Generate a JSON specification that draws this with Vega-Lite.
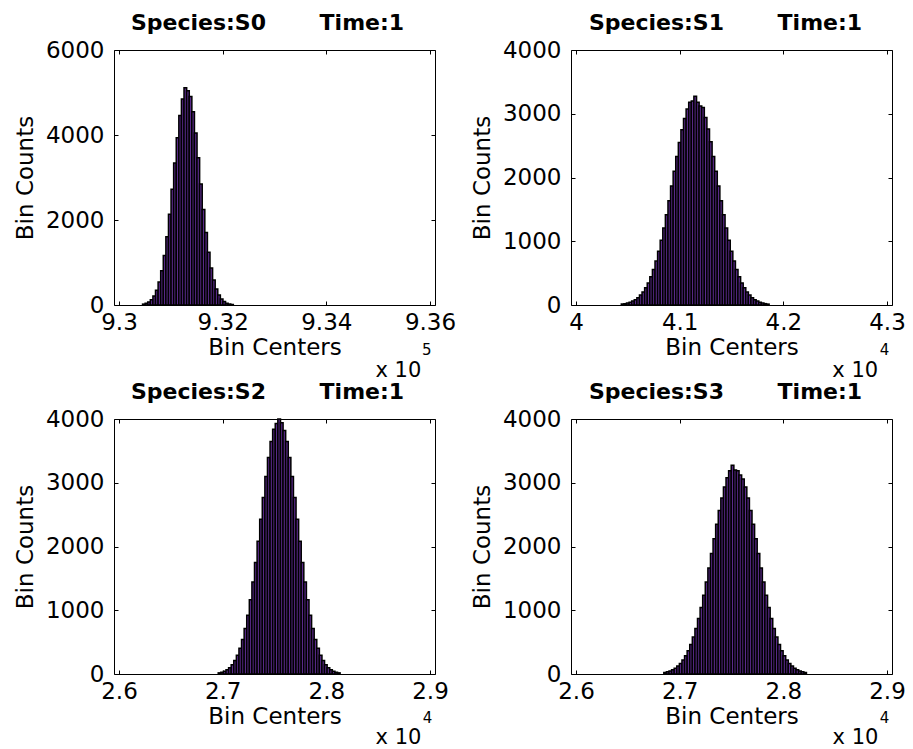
{
"$schema": "https://vega.github.io/schema/vega-lite/v6.json",
"background": "white",
"padding": {"left": 13, "top": 11, "right": 5, "bottom": 5},
"datasets": {
"s0": [{"c":9.3048,"n":21},{"c":9.3053,"n":39},{"c":9.3058,"n":72},{"c":9.3063,"n":126},{"c":9.3068,"n":213},{"c":9.3073,"n":346},{"c":9.3078,"n":539},{"c":9.3083,"n":807},{"c":9.3088,"n":1162},{"c":9.3093,"n":1607},{"c":9.3098,"n":2134},{"c":9.3103,"n":2724},{"c":9.3108,"n":3341},{"c":9.3113,"n":3936},{"c":9.3118,"n":4456},{"c":9.3123,"n":4846},{"c":9.3128,"n":5110},{"c":9.3133,"n":5040},{"c":9.3138,"n":4904},{"c":9.3143,"n":4545},{"c":9.3148,"n":4048},{"c":9.3153,"n":3463},{"c":9.3158,"n":2847},{"c":9.3163,"n":2249},{"c":9.3168,"n":1706},{"c":9.3173,"n":1244},{"c":9.3178,"n":871},{"c":9.3183,"n":586},{"c":9.3188,"n":379},{"c":9.3193,"n":236},{"c":9.3198,"n":141},{"c":9.3203,"n":81},{"c":9.3208,"n":44},{"c":9.3213,"n":23},{"c":9.3218,"n":12}],
"s1": [{"c":4.045,"n":14},{"c":4.0475,"n":21},{"c":4.05,"n":30},{"c":4.0525,"n":43},{"c":4.055,"n":61},{"c":4.0575,"n":84},{"c":4.06,"n":115},{"c":4.0625,"n":155},{"c":4.065,"n":205},{"c":4.0675,"n":269},{"c":4.07,"n":347},{"c":4.0725,"n":443},{"c":4.075,"n":556},{"c":4.0775,"n":689},{"c":4.08,"n":842},{"c":4.0825,"n":1015},{"c":4.085,"n":1207},{"c":4.0875,"n":1415},{"c":4.09,"n":1637},{"c":4.0925,"n":1867},{"c":4.095,"n":2100},{"c":4.0975,"n":2330},{"c":4.1,"n":2549},{"c":4.1025,"n":2750},{"c":4.105,"n":2927},{"c":4.1075,"n":3073},{"c":4.11,"n":3181},{"c":4.1125,"n":3200},{"c":4.115,"n":3275},{"c":4.1175,"n":3180},{"c":4.12,"n":3120},{"c":4.1225,"n":3100},{"c":4.125,"n":2940},{"c":4.1275,"n":2760},{"c":4.13,"n":2560},{"c":4.1325,"n":2330},{"c":4.135,"n":2100},{"c":4.1375,"n":1867},{"c":4.14,"n":1637},{"c":4.1425,"n":1415},{"c":4.145,"n":1207},{"c":4.1475,"n":1015},{"c":4.15,"n":842},{"c":4.1525,"n":689},{"c":4.155,"n":556},{"c":4.1575,"n":443},{"c":4.16,"n":347},{"c":4.1625,"n":269},{"c":4.165,"n":205},{"c":4.1675,"n":155},{"c":4.17,"n":115},{"c":4.1725,"n":84},{"c":4.175,"n":61},{"c":4.1775,"n":43},{"c":4.18,"n":30},{"c":4.1825,"n":21},{"c":4.185,"n":14}],
"s2": [{"c":2.697,"n":18},{"c":2.6995,"n":29},{"c":2.702,"n":44},{"c":2.7045,"n":68},{"c":2.707,"n":100},{"c":2.7095,"n":147},{"c":2.712,"n":210},{"c":2.7145,"n":294},{"c":2.717,"n":403},{"c":2.7195,"n":541},{"c":2.722,"n":713},{"c":2.7245,"n":920},{"c":2.727,"n":1164},{"c":2.7295,"n":1442},{"c":2.732,"n":1750},{"c":2.7345,"n":2082},{"c":2.737,"n":2426},{"c":2.7395,"n":2770},{"c":2.742,"n":3099},{"c":2.7445,"n":3397},{"c":2.747,"n":3649},{"c":2.7495,"n":3840},{"c":2.752,"n":3930},{"c":2.7545,"n":4000},{"c":2.757,"n":3940},{"c":2.7595,"n":3820},{"c":2.762,"n":3649},{"c":2.7645,"n":3397},{"c":2.767,"n":3099},{"c":2.7695,"n":2770},{"c":2.772,"n":2426},{"c":2.7745,"n":2082},{"c":2.777,"n":1750},{"c":2.7795,"n":1442},{"c":2.782,"n":1164},{"c":2.7845,"n":920},{"c":2.787,"n":713},{"c":2.7895,"n":541},{"c":2.792,"n":403},{"c":2.7945,"n":294},{"c":2.797,"n":210},{"c":2.7995,"n":147},{"c":2.802,"n":100},{"c":2.8045,"n":68},{"c":2.807,"n":44},{"c":2.8095,"n":29},{"c":2.812,"n":18}],
"s3": [{"c":2.686,"n":24},{"c":2.6885,"n":34},{"c":2.691,"n":48},{"c":2.6935,"n":66},{"c":2.696,"n":91},{"c":2.6985,"n":124},{"c":2.701,"n":166},{"c":2.7035,"n":219},{"c":2.706,"n":285},{"c":2.7085,"n":366},{"c":2.711,"n":463},{"c":2.7135,"n":579},{"c":2.716,"n":714},{"c":2.7185,"n":869},{"c":2.721,"n":1043},{"c":2.7235,"n":1235},{"c":2.726,"n":1443},{"c":2.7285,"n":1663},{"c":2.731,"n":1891},{"c":2.7335,"n":2121},{"c":2.736,"n":2348},{"c":2.7385,"n":2563},{"c":2.741,"n":2761},{"c":2.7435,"n":2935},{"c":2.746,"n":3077},{"c":2.7485,"n":3190},{"c":2.751,"n":3275},{"c":2.7535,"n":3200},{"c":2.756,"n":3190},{"c":2.7585,"n":3120},{"c":2.761,"n":3060},{"c":2.7635,"n":2935},{"c":2.766,"n":2761},{"c":2.7685,"n":2563},{"c":2.771,"n":2348},{"c":2.7735,"n":2121},{"c":2.776,"n":1891},{"c":2.7785,"n":1663},{"c":2.781,"n":1443},{"c":2.7835,"n":1235},{"c":2.786,"n":1043},{"c":2.7885,"n":869},{"c":2.791,"n":714},{"c":2.7935,"n":579},{"c":2.796,"n":463},{"c":2.7985,"n":366},{"c":2.801,"n":285},{"c":2.8035,"n":219},{"c":2.806,"n":166},{"c":2.8085,"n":124},{"c":2.811,"n":91},{"c":2.8135,"n":66},{"c":2.816,"n":48},{"c":2.8185,"n":34},{"c":2.821,"n":24}]
},
"columns": 2,
"spacing": {"row": 114, "column": 136},
"bounds": "flush",
"concat": [
{
"width": 321, "height": 255,
"title": {"text": "Species:S0\u00a0\u00a0\u00a0\u00a0\u00a0\u00a0\u00a0Time:1", "dx": -7},
"layer": [
{"data": {"name": "s0"},
 "mark": {"type": "bar", "width": 2.67, "fill": "#5a2a8a", "stroke": "#000000", "strokeWidth": 1.5},
 "encoding": {
  "x": {"field": "c", "type": "quantitative", "scale": {"domain": [9.3, 9.36], "nice": false, "zero": false}, "axis": {"orient": "bottom", "values": [9.3, 9.32, 9.34, 9.36], "format": "~g", "labelPadding": 10, "titlePadding": 2}, "title": "Bin Centers"},
  "y": {"field": "n", "type": "quantitative", "scale": {"domain": [0, 6000], "nice": false}, "axis": {"orient": "left", "values": [0, 2000, 4000, 6000], "format": "d", "labelPadding": 14, "titlePadding": 8}, "title": "Bin Counts"}
 }},
{"data": {"values": [{}]},
 "mark": {"type": "text", "fontSize": 21, "align": "center", "baseline": "alphabetic", "color": "black"},
 "encoding": {
  "x": {"datum": 9.3539, "type": "quantitative", "scale": {"domain": [9.3, 9.36], "nice": false, "zero": false}, "axis": {"orient": "top", "values": [9.3, 9.32, 9.34, 9.36], "labels": false, "title": null}},
  "y": {"datum": -1690, "type": "quantitative", "scale": {"domain": [0, 6000], "nice": false}, "axis": {"orient": "right", "values": [0, 2000, 4000, 6000], "labels": false, "title": null}},
  "text": {"value": "x 10"}
 }},
{"data": {"values": [{}]},
 "mark": {"type": "text", "fontSize": 15, "align": "center", "baseline": "alphabetic", "color": "black"},
 "encoding": {
  "x": {"datum": 9.3594, "type": "quantitative", "scale": {"domain": [9.3, 9.36], "nice": false, "zero": false}, "axis": null},
  "y": {"datum": -1181, "type": "quantitative", "scale": {"domain": [0, 6000], "nice": false}, "axis": null},
  "text": {"value": "5"}
 }}
],
"resolve": {"axis": {"x": "independent", "y": "independent"}}
},
{
"width": 321, "height": 255,
"title": {"text": "Species:S1\u00a0\u00a0\u00a0\u00a0\u00a0\u00a0\u00a0Time:1", "dx": -6},
"layer": [
{"data": {"name": "s1"},
 "mark": {"type": "bar", "width": 2.67, "fill": "#5a2a8a", "stroke": "#000000", "strokeWidth": 1.5},
 "encoding": {
  "x": {"field": "c", "type": "quantitative", "scale": {"domain": [4, 4.3], "nice": false, "zero": false}, "axis": {"orient": "bottom", "values": [4, 4.1, 4.2, 4.3], "format": "~g", "labelPadding": 10, "titlePadding": 2}, "title": "Bin Centers"},
  "y": {"field": "n", "type": "quantitative", "scale": {"domain": [0, 4000], "nice": false}, "axis": {"orient": "left", "values": [0, 1000, 2000, 3000, 4000], "format": "d", "labelPadding": 14, "titlePadding": 8}, "title": "Bin Counts"}
 }},
{"data": {"values": [{}]},
 "mark": {"type": "text", "fontSize": 21, "align": "center", "baseline": "alphabetic", "color": "black"},
 "encoding": {
  "x": {"datum": 4.2694, "type": "quantitative", "scale": {"domain": [4, 4.3], "nice": false, "zero": false}, "axis": {"orient": "top", "values": [4, 4.1, 4.2, 4.3], "labels": false, "title": null}},
  "y": {"datum": -1127, "type": "quantitative", "scale": {"domain": [0, 4000], "nice": false}, "axis": {"orient": "right", "values": [0, 1000, 2000, 3000, 4000], "labels": false, "title": null}},
  "text": {"value": "x 10"}
 }},
{"data": {"values": [{}]},
 "mark": {"type": "text", "fontSize": 15, "align": "center", "baseline": "alphabetic", "color": "black"},
 "encoding": {
  "x": {"datum": 4.2975, "type": "quantitative", "scale": {"domain": [4, 4.3], "nice": false, "zero": false}, "axis": null},
  "y": {"datum": -787, "type": "quantitative", "scale": {"domain": [0, 4000], "nice": false}, "axis": null},
  "text": {"value": "4"}
 }}
],
"resolve": {"axis": {"x": "independent", "y": "independent"}}
},
{
"width": 321, "height": 255,
"title": {"text": "Species:S2\u00a0\u00a0\u00a0\u00a0\u00a0\u00a0\u00a0Time:1", "dx": -7},
"layer": [
{"data": {"name": "s2"},
 "mark": {"type": "bar", "width": 2.67, "fill": "#5a2a8a", "stroke": "#000000", "strokeWidth": 1.5},
 "encoding": {
  "x": {"field": "c", "type": "quantitative", "scale": {"domain": [2.6, 2.9], "nice": false, "zero": false}, "axis": {"orient": "bottom", "values": [2.6, 2.7, 2.8, 2.9], "format": "~g", "labelPadding": 10, "titlePadding": 2}, "title": "Bin Centers"},
  "y": {"field": "n", "type": "quantitative", "scale": {"domain": [0, 4000], "nice": false}, "axis": {"orient": "left", "values": [0, 1000, 2000, 3000, 4000], "format": "d", "labelPadding": 14, "titlePadding": 8}, "title": "Bin Counts"}
 }},
{"data": {"values": [{}]},
 "mark": {"type": "text", "fontSize": 21, "align": "center", "baseline": "alphabetic", "color": "black"},
 "encoding": {
  "x": {"datum": 2.8696, "type": "quantitative", "scale": {"domain": [2.6, 2.9], "nice": false, "zero": false}, "axis": {"orient": "top", "values": [2.6, 2.7, 2.8, 2.9], "labels": false, "title": null}},
  "y": {"datum": -1100, "type": "quantitative", "scale": {"domain": [0, 4000], "nice": false}, "axis": {"orient": "right", "values": [0, 1000, 2000, 3000, 4000], "labels": false, "title": null}},
  "text": {"value": "x 10"}
 }},
{"data": {"values": [{}]},
 "mark": {"type": "text", "fontSize": 15, "align": "center", "baseline": "alphabetic", "color": "black"},
 "encoding": {
  "x": {"datum": 2.8975, "type": "quantitative", "scale": {"domain": [2.6, 2.9], "nice": false, "zero": false}, "axis": null},
  "y": {"datum": -767, "type": "quantitative", "scale": {"domain": [0, 4000], "nice": false}, "axis": null},
  "text": {"value": "4"}
 }}
],
"resolve": {"axis": {"x": "independent", "y": "independent"}}
},
{
"width": 321, "height": 255,
"title": {"text": "Species:S3\u00a0\u00a0\u00a0\u00a0\u00a0\u00a0\u00a0Time:1", "dx": -6},
"layer": [
{"data": {"name": "s3"},
 "mark": {"type": "bar", "width": 2.67, "fill": "#5a2a8a", "stroke": "#000000", "strokeWidth": 1.5},
 "encoding": {
  "x": {"field": "c", "type": "quantitative", "scale": {"domain": [2.6, 2.9], "nice": false, "zero": false}, "axis": {"orient": "bottom", "values": [2.6, 2.7, 2.8, 2.9], "format": "~g", "labelPadding": 10, "titlePadding": 2}, "title": "Bin Centers"},
  "y": {"field": "n", "type": "quantitative", "scale": {"domain": [0, 4000], "nice": false}, "axis": {"orient": "left", "values": [0, 1000, 2000, 3000, 4000], "format": "d", "labelPadding": 14, "titlePadding": 8}, "title": "Bin Counts"}
 }},
{"data": {"values": [{}]},
 "mark": {"type": "text", "fontSize": 21, "align": "center", "baseline": "alphabetic", "color": "black"},
 "encoding": {
  "x": {"datum": 2.8696, "type": "quantitative", "scale": {"domain": [2.6, 2.9], "nice": false, "zero": false}, "axis": {"orient": "top", "values": [2.6, 2.7, 2.8, 2.9], "labels": false, "title": null}},
  "y": {"datum": -1100, "type": "quantitative", "scale": {"domain": [0, 4000], "nice": false}, "axis": {"orient": "right", "values": [0, 1000, 2000, 3000, 4000], "labels": false, "title": null}},
  "text": {"value": "x 10"}
 }},
{"data": {"values": [{}]},
 "mark": {"type": "text", "fontSize": 15, "align": "center", "baseline": "alphabetic", "color": "black"},
 "encoding": {
  "x": {"datum": 2.8975, "type": "quantitative", "scale": {"domain": [2.6, 2.9], "nice": false, "zero": false}, "axis": null},
  "y": {"datum": -767, "type": "quantitative", "scale": {"domain": [0, 4000], "nice": false}, "axis": null},
  "text": {"value": "4"}
 }}
],
"resolve": {"axis": {"x": "independent", "y": "independent"}}
}
],
"config": {
 "font": "DejaVu Sans",
 "view": {"stroke": "black", "strokeWidth": 1},
 "axis": {"grid": false, "domain": false, "tickSize": -4, "tickColor": "black", "tickWidth": 1, "labelFont": "DejaVu Sans", "labelFontSize": 23, "labelColor": "black", "labelFlush": false, "labelOverlap": false, "labelBound": false, "titleFont": "DejaVu Sans", "titleFontSize": 23, "titleFontWeight": "normal", "titleColor": "black"},
 "title": {"font": "DejaVu Sans", "fontSize": 22, "fontWeight": "bold", "color": "black", "anchor": "middle", "frame": "group"},
 "text": {"font": "DejaVu Sans"}
}
}
